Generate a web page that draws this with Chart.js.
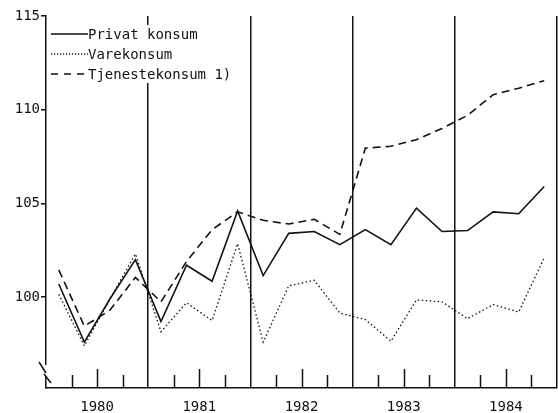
<!DOCTYPE html>
<html lang="no">
<head>
<meta charset="UTF-8" />
<title>Privat konsum</title>
<script src="https://cdn.jsdelivr.net/npm/chart.js"></script>
<style>
  html, body { margin: 0; padding: 0; background: #fff; }
  #wrap { width: 558px; height: 413px; }
</style>
</head>
<body>
<div id="wrap"><canvas id="chart" width="558" height="413"></canvas></div>
<script>
// quarterly index values, 1980 Q1 .. 1984 Q4
const years = ['1980', '1981', '1982', '1983', '1984'];
const yTicks = [100, 105, 110, 115];

const privat = [100.7, 97.6, 99.9, 102.0, 98.7, 101.7, 100.85, 104.6, 101.15, 103.4,
                103.5, 102.8, 103.6, 102.8, 104.75, 103.5, 103.55, 104.55, 104.45, 105.9];
const vare = [100.15, 97.4, 99.9, 102.3, 98.15, 99.7, 98.75, 102.85, 97.6, 100.6,
              100.9, 99.15, 98.8, 97.65, 99.85, 99.75, 98.85, 99.6, 99.2, 102.1];
const tjeneste = [101.45, 98.45, 99.3, 101.05, 99.75, 101.9, 103.6, 104.55, 104.1, 103.9,
                  104.15, 103.35, 107.95, 108.05, 108.4, 109.0, 109.7, 110.8, 111.15, 111.55];

const ink = '#111';
const font = { family: 'DejaVu Sans Mono', size: 14 };

// points sit in the middle of each quarter
const toPoints = arr => arr.map((v, i) => ({ x: i + 0.5, y: v }));

// short inward ticks on the x axis, taller at mid-year
const quarterTicks = {
  id: 'quarterTicks',
  afterDraw(chart) {
    const { ctx, chartArea } = chart;
    const xs = chart.scales.x;
    ctx.save();
    ctx.strokeStyle = ink;
    ctx.lineWidth = 1.5;
    for (let k = 1; k < 20; k++) {
      if (k % 4 === 0) continue;
      const px = Math.round(xs.getPixelForValue(k)) + 0.5;
      const len = k % 4 === 2 ? 19 : 13;
      ctx.beginPath();
      ctx.moveTo(px, chartArea.bottom);
      ctx.lineTo(px, chartArea.bottom - len);
      ctx.stroke();
    }
    ctx.restore();
  }
};

// broken y axis near the bottom
const axisBreak = {
  id: 'axisBreak',
  afterDraw(chart) {
    const { ctx, chartArea } = chart;
    const x = chartArea.left;
    const b = chartArea.bottom;
    ctx.save();
    ctx.fillStyle = '#fff';
    ctx.fillRect(x - 3, b - 23, 6, 11);
    ctx.strokeStyle = ink;
    ctx.lineWidth = 1.5;
    ctx.beginPath();
    ctx.moveTo(x - 7, b - 26); ctx.lineTo(x, b - 15);
    ctx.moveTo(x - 2, b - 14); ctx.lineTo(x + 5, b - 5);
    ctx.stroke();
    ctx.restore();
  }
};

// legend drawn inside the plot, top left, on a white patch
const insideLegend = {
  id: 'insideLegend',
  afterDraw(chart) {
    const { ctx, chartArea } = chart;
    const x0 = chartArea.left + 5;
    const x1 = chartArea.left + 42;
    const rows = [chartArea.top + 18, chartArea.top + 38, chartArea.top + 58];
    ctx.save();
    ctx.fillStyle = '#fff';
    ctx.fillRect(chartArea.left + 2, chartArea.top + 9, 190, 58);
    ctx.font = font.size + 'px ' + font.family;
    ctx.textBaseline = 'middle';
    chart.data.datasets.forEach((ds, i) => {
      const y = rows[i];
      ctx.strokeStyle = ink;
      ctx.lineWidth = ds.borderWidth;
      ctx.setLineDash(ds.legendDash || ds.borderDash || []);
      ctx.beginPath();
      ctx.moveTo(x0, y);
      ctx.lineTo(x1, y);
      ctx.stroke();
      ctx.setLineDash([]);
      ctx.fillStyle = ink;
      ctx.fillText(ds.label, x1, y + 1);
    });
    ctx.restore();
  }
};

new Chart(document.getElementById('chart'), {
  type: 'line',
  data: {
    datasets: [
      { label: 'Privat konsum', data: toPoints(privat), borderColor: ink, borderWidth: 1.6 },
      { label: 'Varekonsum', data: toPoints(vare), borderColor: ink, borderWidth: 1.3,
        borderDash: [1.5, 2.5], legendDash: [1.2, 1.8] },
      { label: 'Tjenestekonsum 1)', data: toPoints(tjeneste), borderColor: ink, borderWidth: 1.6,
        borderDash: [8, 5], legendDash: [7, 6] }
    ]
  },
  options: {
    responsive: false,
    animation: false,
    layout: { padding: { top: 16, right: 1, left: 0, bottom: 0 } },
    elements: { point: { radius: 0 }, line: { tension: 0, fill: false } },
    plugins: { legend: { display: false }, tooltip: { enabled: false } },
    scales: {
      x: {
        type: 'linear',
        min: 0,
        max: 20,
        afterBuildTicks: s => { s.ticks = Array.from({ length: 21 }, (_, k) => ({ value: k })); },
        afterFit: s => { s.height = 25; s.paddingLeft = 0; s.paddingRight = 0; },
        ticks: {
          autoSkip: false,
          maxRotation: 0,
          padding: 11,
          color: ink,
          font,
          callback: v => (v % 4 === 2 ? years[(v - 2) / 4] : '')
        },
        grid: {
          drawTicks: false,
          lineWidth: 1.5,
          color: c => (c.tick && c.tick.value > 0 && c.tick.value % 4 === 0 ? ink : 'rgba(0,0,0,0)')
        },
        border: { display: true, color: ink, width: 1.5 }
      },
      y: {
        min: 95.15,
        max: 115,
        afterBuildTicks: s => { s.ticks = yTicks.map(v => ({ value: v })); },
        afterFit: s => { s.width = 46; },
        ticks: { padding: 1, color: ink, font },
        grid: { drawOnChartArea: false, drawTicks: true, tickLength: 5, color: ink, lineWidth: 1.5 },
        border: { display: true, color: ink, width: 1.5 }
      }
    }
  },
  plugins: [quarterTicks, axisBreak, insideLegend]
});
</script>
</body>
</html>
